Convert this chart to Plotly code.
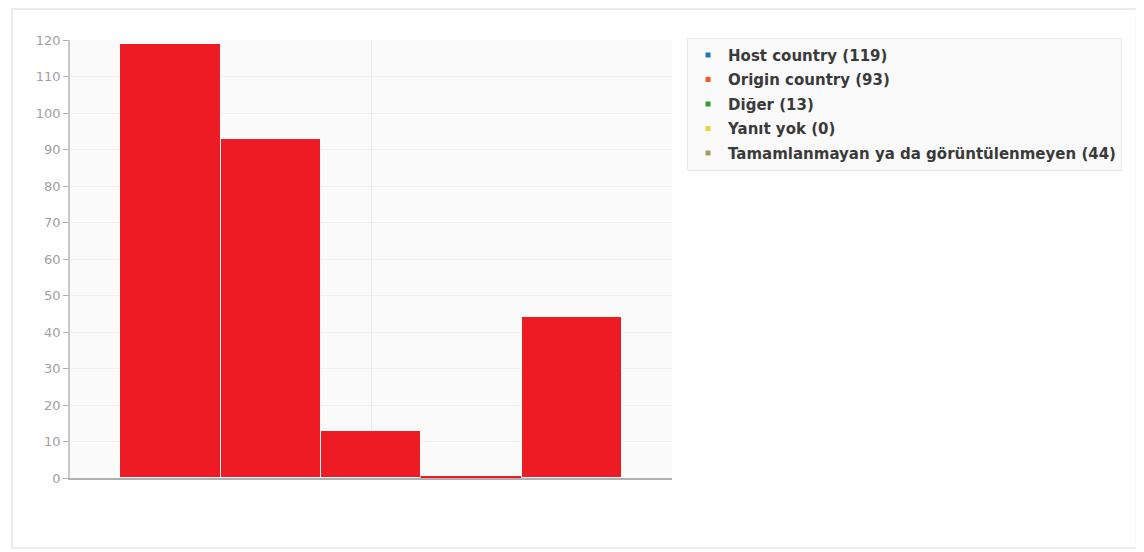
import plotly.graph_objects as go

categories = ["Host country", "Origin country", "Diğer", "Yanıt yok",
              "Tamamlanmayan ya da görüntülenmeyen"]
values = [119, 93, 13, 0, 44]
legend_colors = ["#1f77b4", "#ff5722", "#2ca02c", "#e8d33f", "#a0a060"]
bar_color = "#ED1C24"
yticks = list(range(0, 121, 10))

fig = go.Figure()
for i, (cat, val) in enumerate(zip(categories, values)):
    line = dict(color="white", width=1) if val > 0 else dict(color=bar_color, width=3)
    fig.add_trace(go.Bar(
        x=[i], y=[val], width=[1.0],
        marker=dict(color=bar_color, line=line),
        showlegend=False, name=cat, hoverinfo="y",
    ))
for i, (cat, val) in enumerate(zip(categories, values)):
    fig.add_trace(go.Scatter(
        x=[None], y=[None], mode="markers",
        marker=dict(symbol="square", size=5, color=legend_colors[i]),
        name=f"{cat} ({val})", legendgroup=f"g{i}", showlegend=True,
    ))

fig.update_layout(
    width=1144, height=552,
    margin=dict(l=62, r=480, t=32, b=82),
    paper_bgcolor="white",
    plot_bgcolor="#fafafa",
    bargap=0,
    font=dict(family="DejaVu Sans", size=13, color="#333"),
    legend=dict(
        x=1.025, y=1.005, xanchor="left", yanchor="top",
        bgcolor="#fafafa", bordercolor="#e8e8e8", borderwidth=1,
        font=dict(family="DejaVu Sans", size=15, color="#3a3a3a", weight="bold"),
        tracegroupgap=2, itemwidth=30,
    ),
    xaxis=dict(
        range=[-1.0, 5.0], showticklabels=False, ticks="",
        tickvals=[2], showgrid=True, gridcolor="#ececec",
        zeroline=False, showline=True, linecolor="#b0b0b0", linewidth=1.5,
        fixedrange=True,
    ),
    yaxis=dict(
        range=[0, 120], tickvals=yticks, ticks="outside", ticklen=5,
        tickcolor="#b0b0b0",
        tickfont=dict(family="DejaVu Sans", size=13, color="#a0a0a0"),
        showgrid=True, gridcolor="#efefef", zeroline=False,
        showline=True, linecolor="#c8c8c8", linewidth=1.5,
    ),
    shapes=[
        dict(type="rect", xref="paper", yref="paper",
             x0=-0.0963, x1=1.772, y0=-0.16, y1=1.071,
             line=dict(color="#ececec", width=2), fillcolor="rgba(0,0,0,0)",
             layer="below"),
    ],
)

fig.write_html("out.html")
